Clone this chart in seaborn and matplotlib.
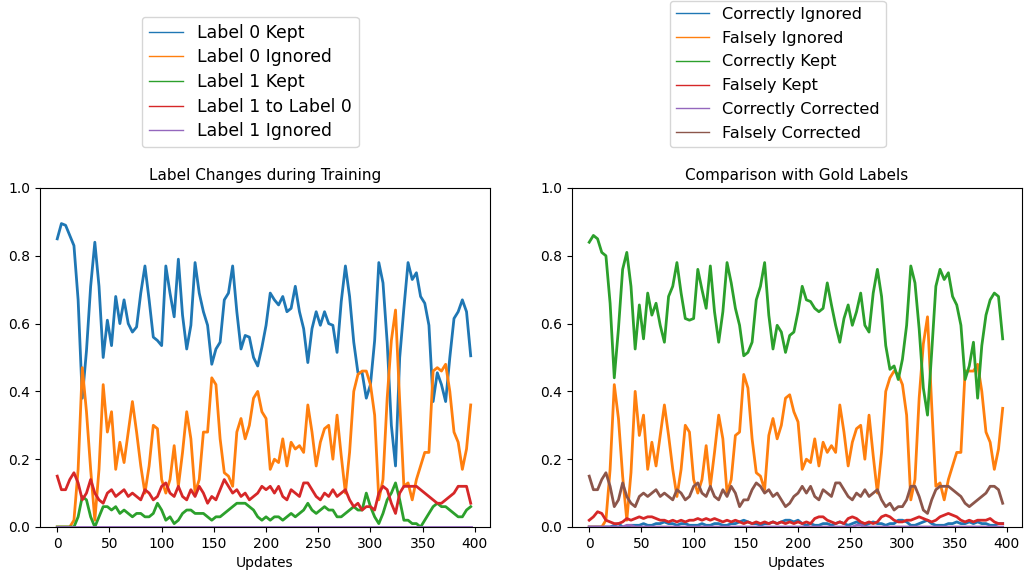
import numpy as np
import pandas as pd
import matplotlib
matplotlib.use("Agg")
import matplotlib.pyplot as plt
from matplotlib.lines import Line2D
import seaborn as sns

# Training updates (sampled every 4 updates)
updates = np.arange(0, 400, 4)

# ---- Label changes during training (fractions of samples) ----
label0_kept = [
    0.85, 0.895, 0.89, 0.86, 0.83, 0.67, 0.38, 0.52, 0.71, 0.84, 0.71, 0.50, 0.61, 0.535, 0.68, 0.60, 0.67, 0.60, 0.575, 0.59, 0.69, 0.77, 0.67, 0.56, 0.55,
    0.535, 0.77, 0.69, 0.62, 0.79, 0.625, 0.525, 0.595, 0.78, 0.69, 0.635, 0.595, 0.48, 0.525, 0.545, 0.67, 0.69, 0.77, 0.635, 0.525, 0.565, 0.56, 0.50, 0.475, 0.53,
    0.595, 0.69, 0.67, 0.655, 0.68, 0.635, 0.645, 0.71, 0.635, 0.585, 0.485, 0.585, 0.635, 0.595, 0.635, 0.60, 0.595, 0.515, 0.665, 0.77, 0.68, 0.545, 0.455, 0.455, 0.38,
    0.42, 0.55, 0.78, 0.72, 0.545, 0.30, 0.18, 0.50, 0.645, 0.78, 0.73, 0.75, 0.68, 0.66, 0.595, 0.37, 0.455, 0.42, 0.37, 0.50, 0.615, 0.635, 0.67, 0.635, 0.505,
]
label0_ignored = [
    0.0, 0.0, 0.0, 0.0, 0.02, 0.17, 0.47, 0.34, 0.17, 0.02, 0.17, 0.42, 0.28, 0.34, 0.17, 0.25, 0.19, 0.28, 0.37, 0.28, 0.18, 0.10, 0.18, 0.30, 0.29,
    0.14, 0.10, 0.14, 0.24, 0.12, 0.22, 0.34, 0.26, 0.10, 0.14, 0.28, 0.28, 0.44, 0.42, 0.26, 0.16, 0.15, 0.12, 0.28, 0.32, 0.26, 0.30, 0.38, 0.40, 0.34,
    0.32, 0.17, 0.20, 0.19, 0.26, 0.18, 0.25, 0.23, 0.24, 0.22, 0.36, 0.28, 0.18, 0.25, 0.29, 0.30, 0.20, 0.33, 0.21, 0.10, 0.22, 0.40, 0.45, 0.46, 0.46,
    0.42, 0.33, 0.08, 0.14, 0.38, 0.55, 0.64, 0.37, 0.12, 0.13, 0.08, 0.14, 0.18, 0.22, 0.22, 0.46, 0.47, 0.46, 0.48, 0.40, 0.28, 0.25, 0.17, 0.23, 0.36,
]
label1_kept = [
    0.0, 0.0, 0.0, 0.0, 0.0, 0.03, 0.09, 0.08, 0.03, 0.0, 0.03, 0.06, 0.06, 0.05, 0.06, 0.04, 0.05, 0.04, 0.03, 0.04, 0.04, 0.03, 0.03, 0.04, 0.07,
    0.05, 0.02, 0.03, 0.01, 0.02, 0.04, 0.05, 0.05, 0.04, 0.04, 0.04, 0.03, 0.02, 0.03, 0.03, 0.04, 0.05, 0.06, 0.07, 0.07, 0.07, 0.06, 0.05, 0.03, 0.02,
    0.03, 0.02, 0.03, 0.03, 0.02, 0.03, 0.04, 0.03, 0.04, 0.05, 0.07, 0.05, 0.04, 0.05, 0.06, 0.05, 0.05, 0.03, 0.03, 0.04, 0.05, 0.06, 0.05, 0.05, 0.10,
    0.06, 0.03, 0.01, 0.04, 0.08, 0.10, 0.13, 0.08, 0.02, 0.02, 0.01, 0.01, 0.0, 0.02, 0.04, 0.06, 0.07, 0.06, 0.06, 0.05, 0.04, 0.03, 0.03, 0.05, 0.06,
]
label1_to_label0 = [
    0.15, 0.11, 0.11, 0.14, 0.16, 0.13, 0.08, 0.10, 0.14, 0.10, 0.08, 0.07, 0.10, 0.11, 0.09, 0.10, 0.11, 0.09, 0.10, 0.09, 0.08, 0.11, 0.10, 0.08, 0.09,
    0.12, 0.13, 0.10, 0.09, 0.12, 0.09, 0.08, 0.11, 0.09, 0.12, 0.10, 0.07, 0.09, 0.08, 0.11, 0.14, 0.12, 0.10, 0.11, 0.09, 0.10, 0.08, 0.09, 0.10, 0.12,
    0.11, 0.12, 0.10, 0.12, 0.09, 0.08, 0.11, 0.10, 0.09, 0.13, 0.13, 0.11, 0.09, 0.08, 0.10, 0.09, 0.11, 0.09, 0.10, 0.11, 0.08, 0.06, 0.07, 0.05, 0.06,
    0.06, 0.05, 0.10, 0.12, 0.11, 0.07, 0.04, 0.10, 0.12, 0.12, 0.12, 0.12, 0.11, 0.10, 0.09, 0.08, 0.07, 0.07, 0.08, 0.09, 0.10, 0.12, 0.12, 0.12, 0.07,
]
label1_ignored = [0.0] * 100

# ---- Comparison with gold labels ----
correctly_ignored = [
    0.0, 0.0, 0.0, 0.0, 0.0, 0.0, 0.005, 0.01, 0.0, 0.0, 0.005, 0.005, 0.005, 0.01, 0.005, 0.005, 0.01, 0.01, 0.015, 0.01, 0.01, 0.005, 0.01, 0.01, 0.005,
    0.005, 0.005, 0.01, 0.005, 0.005, 0.01, 0.01, 0.005, 0.005, 0.01, 0.01, 0.015, 0.02, 0.015, 0.01, 0.01, 0.005, 0.01, 0.01, 0.015, 0.01, 0.015, 0.02, 0.02, 0.015,
    0.02, 0.01, 0.005, 0.01, 0.005, 0.005, 0.01, 0.01, 0.005, 0.01, 0.015, 0.01, 0.005, 0.01, 0.015, 0.01, 0.005, 0.01, 0.015, 0.01, 0.01, 0.005, 0.01, 0.01, 0.02,
    0.02, 0.015, 0.005, 0.005, 0.01, 0.015, 0.02, 0.01, 0.005, 0.005, 0.005, 0.01, 0.01, 0.015, 0.01, 0.01, 0.015, 0.01, 0.015, 0.01, 0.01, 0.005, 0.005, 0.01, 0.01,
]
falsely_ignored = [
    0.0, 0.0, 0.0, 0.0, 0.02, 0.17, 0.42, 0.32, 0.15, 0.02, 0.16, 0.40, 0.27, 0.33, 0.17, 0.25, 0.18, 0.27, 0.36, 0.27, 0.17, 0.09, 0.17, 0.30, 0.28,
    0.14, 0.10, 0.14, 0.24, 0.12, 0.22, 0.33, 0.26, 0.10, 0.14, 0.27, 0.28, 0.45, 0.41, 0.26, 0.16, 0.15, 0.11, 0.27, 0.32, 0.26, 0.30, 0.38, 0.39, 0.34,
    0.31, 0.17, 0.20, 0.19, 0.26, 0.18, 0.25, 0.22, 0.24, 0.22, 0.36, 0.28, 0.18, 0.25, 0.29, 0.30, 0.20, 0.33, 0.21, 0.10, 0.22, 0.40, 0.44, 0.46, 0.45,
    0.42, 0.33, 0.08, 0.14, 0.38, 0.54, 0.62, 0.36, 0.12, 0.13, 0.08, 0.14, 0.18, 0.22, 0.22, 0.46, 0.46, 0.46, 0.48, 0.40, 0.28, 0.25, 0.17, 0.23, 0.35,
]
correctly_kept = [
    0.84, 0.86, 0.85, 0.81, 0.80, 0.66, 0.44, 0.585, 0.76, 0.81, 0.71, 0.525, 0.655, 0.555, 0.69, 0.625, 0.66, 0.595, 0.545, 0.68, 0.71, 0.78, 0.69, 0.615, 0.61,
    0.615, 0.76, 0.70, 0.645, 0.77, 0.635, 0.545, 0.635, 0.78, 0.72, 0.645, 0.595, 0.505, 0.515, 0.545, 0.67, 0.71, 0.78, 0.625, 0.525, 0.595, 0.575, 0.515, 0.565, 0.575,
    0.635, 0.71, 0.67, 0.665, 0.645, 0.635, 0.645, 0.72, 0.655, 0.595, 0.545, 0.615, 0.655, 0.595, 0.635, 0.69, 0.595, 0.575, 0.69, 0.76, 0.68, 0.535, 0.465, 0.475, 0.435,
    0.495, 0.595, 0.77, 0.72, 0.585, 0.41, 0.33, 0.515, 0.71, 0.76, 0.73, 0.75, 0.68, 0.655, 0.595, 0.435, 0.475, 0.545, 0.38, 0.535, 0.625, 0.67, 0.69, 0.68, 0.555,
]
falsely_kept = [
    0.02, 0.03, 0.045, 0.04, 0.02, 0.015, 0.01, 0.01, 0.015, 0.025, 0.02, 0.025, 0.03, 0.025, 0.03, 0.03, 0.025, 0.02, 0.02, 0.015, 0.02, 0.015, 0.02, 0.015, 0.02,
    0.02, 0.025, 0.02, 0.025, 0.02, 0.025, 0.02, 0.015, 0.02, 0.015, 0.02, 0.015, 0.01, 0.015, 0.01, 0.015, 0.01, 0.015, 0.01, 0.015, 0.01, 0.015, 0.01, 0.015, 0.01,
    0.015, 0.01, 0.015, 0.01, 0.025, 0.03, 0.03, 0.02, 0.015, 0.01, 0.015, 0.01, 0.025, 0.03, 0.025, 0.015, 0.01, 0.015, 0.01, 0.015, 0.03, 0.035, 0.03, 0.02, 0.015,
    0.015, 0.02, 0.02, 0.025, 0.03, 0.025, 0.02, 0.015, 0.02, 0.03, 0.035, 0.04, 0.035, 0.03, 0.02, 0.015, 0.02, 0.015, 0.02, 0.02, 0.02, 0.025, 0.015, 0.01, 0.01,
]
correctly_corrected = [
    0.0, 0.0, 0.0, 0.0, 0.0, 0.0, 0.0, 0.0, 0.0, 0.005, 0.005, 0.0, 0.0, 0.0, 0.0, 0.0, 0.0, 0.0, 0.0, 0.0, 0.0, 0.0, 0.0, 0.0, 0.0,
    0.0, 0.0, 0.0, 0.0, 0.0, 0.0, 0.0, 0.0, 0.0, 0.0, 0.0, 0.0, 0.0, 0.0, 0.0, 0.0, 0.0, 0.0, 0.0, 0.0, 0.0, 0.0, 0.0, 0.0, 0.0,
    0.0, 0.0, 0.0, 0.0, 0.0, 0.0, 0.0, 0.0, 0.0, 0.0, 0.0, 0.0, 0.0, 0.0, 0.005, 0.005, 0.0, 0.0, 0.0, 0.0, 0.0, 0.0, 0.0, 0.0, 0.0,
    0.0, 0.0, 0.0, 0.0, 0.0, 0.0, 0.0, 0.0, 0.0, 0.0, 0.0, 0.0, 0.0, 0.0, 0.0, 0.0, 0.0, 0.0, 0.0, 0.0, 0.0, 0.0, 0.0, 0.0, 0.0,
]
falsely_corrected = [
    0.15, 0.11, 0.11, 0.14, 0.16, 0.12, 0.06, 0.08, 0.13, 0.09, 0.07, 0.06, 0.09, 0.10, 0.09, 0.10, 0.11, 0.09, 0.10, 0.09, 0.08, 0.11, 0.10, 0.08, 0.09,
    0.12, 0.13, 0.10, 0.09, 0.12, 0.09, 0.08, 0.11, 0.09, 0.12, 0.10, 0.06, 0.08, 0.08, 0.11, 0.13, 0.12, 0.10, 0.11, 0.09, 0.10, 0.08, 0.06, 0.07, 0.09,
    0.10, 0.12, 0.10, 0.12, 0.09, 0.08, 0.11, 0.10, 0.09, 0.13, 0.13, 0.11, 0.09, 0.08, 0.10, 0.09, 0.11, 0.09, 0.10, 0.11, 0.08, 0.06, 0.07, 0.05, 0.06,
    0.06, 0.08, 0.12, 0.12, 0.09, 0.05, 0.04, 0.08, 0.11, 0.12, 0.12, 0.12, 0.11, 0.10, 0.09, 0.07, 0.06, 0.07, 0.08, 0.09, 0.10, 0.12, 0.12, 0.11, 0.07,
]

left_series = {
    "Label 0 Kept": label0_kept,
    "Label 0 Ignored": label0_ignored,
    "Label 1 Kept": label1_kept,
    "Label 1 to Label 0": label1_to_label0,
    "Label 1 Ignored": label1_ignored,
}
right_series = {
    "Correctly Ignored": correctly_ignored,
    "Falsely Ignored": falsely_ignored,
    "Correctly Kept": correctly_kept,
    "Falsely Kept": falsely_kept,
    "Correctly Corrected": correctly_corrected,
    "Falsely Corrected": falsely_corrected,
}

palette = sns.color_palette("tab10")


def long_frame(series):
    df = pd.DataFrame(series)
    df["Updates"] = updates
    return df.melt(id_vars="Updates", var_name="kind", value_name="fraction")


fig = plt.figure(figsize=(10.26, 5.74), dpi=100)
ax_l = fig.add_axes([0.039, 0.0819, 0.4386, 0.5906])
ax_r = fig.add_axes([0.5575, 0.0819, 0.4386, 0.5906])

panels = [
    (ax_l, left_series, "Label Changes during Training", (0.1384, 0.7439), 12.4, 0.38),
    (ax_r, right_series, "Comparison with Gold Labels", (0.653, 0.7439), 11.6, 0.54),
]
for ax, series, title, anchor, legend_size, spacing in panels:
    names = list(series.keys())
    cols = palette[: len(names)]
    sns.lineplot(
        data=long_frame(series), x="Updates", y="fraction", hue="kind",
        hue_order=names, palette=cols, linewidth=2, legend=False,
        errorbar=None, ax=ax,
    )
    ax.set_title(title, fontsize=11)
    ax.set_ylabel("")
    ax.set_xlabel("Updates", fontsize=10)
    ax.set_ylim(0, 1.0)
    ax.set_xlim(-16.5, 414.5)
    ax.set_xticks([0, 50, 100, 150, 200, 250, 300, 350, 400])
    ax.set_yticks([0.0, 0.2, 0.4, 0.6, 0.8, 1.0])
    handles = [Line2D([], [], color=c, lw=1) for c in cols]
    fig.legend(handles, names, loc="lower left", bbox_to_anchor=anchor,
               borderaxespad=0, fontsize=legend_size, labelspacing=spacing)

fig.savefig("out.png", dpi=100)
